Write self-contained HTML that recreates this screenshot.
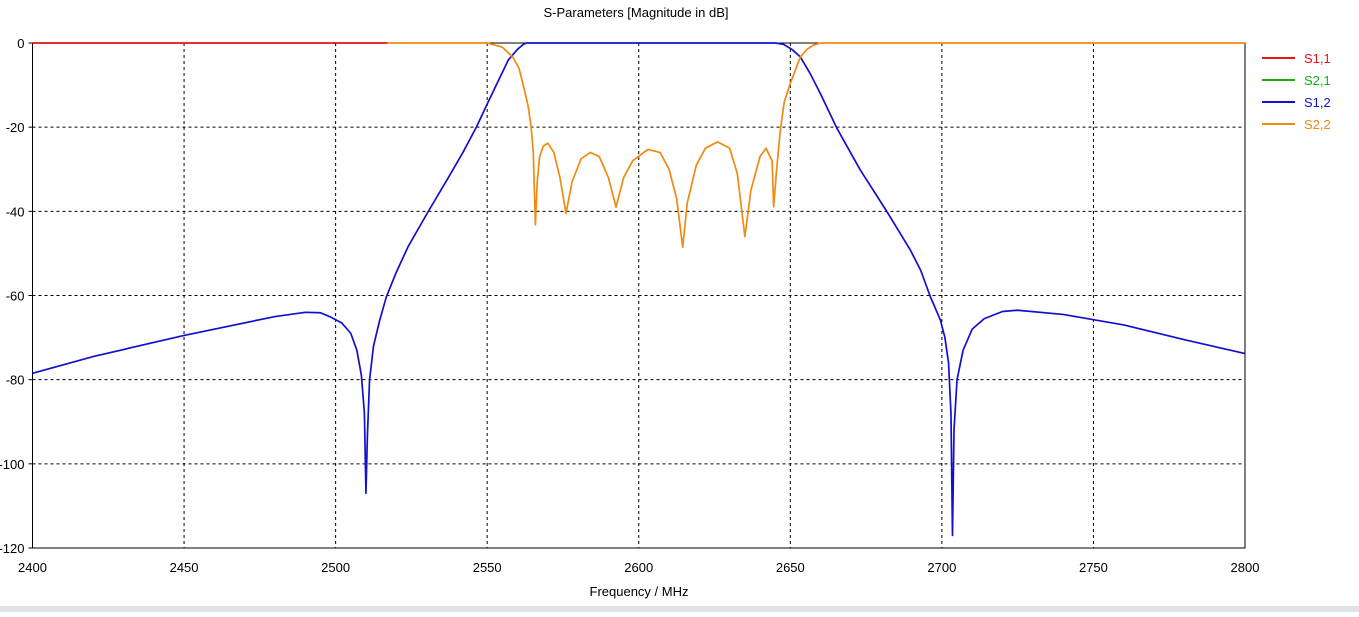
<!DOCTYPE html>
<html><head><meta charset="utf-8"><style>
body{margin:0;background:#fff;width:1359px;height:612px;overflow:hidden;font-family:"Liberation Sans",sans-serif}
svg text{font-family:"Liberation Sans",sans-serif;font-size:13px;fill:#000}
</style></head><body>
<svg id="c" width="1359" height="612">
<rect x="0" y="606" width="1359" height="6" fill="#dfe3ea"/>
<text x="636" y="17" text-anchor="middle">S-Parameters [Magnitude in dB]</text>
<text x="639" y="596" text-anchor="middle">Frequency / MHz</text>
<g id="grid"></g><g id="series"></g><g id="legend"></g>
</svg>
<script>
const xTicks=[2400,2450,2500,2550,2600,2650,2700,2750,2800];
const yTicks=[0,-20,-40,-60,-80,-100,-120];
const s11F=[2400,2517];
const s11V=[0,0];
const s12F=[2400,2420,2450,2480,2490,2495,2498,2502,2505,2507,2508.5,2509.5,2510,2510.5,2511.2,2512.5,2514.5,2516.7,2520,2523.9,2530.5,2537,2542,2546.5,2550.4,2554,2557,2560,2562,2563,2645,2647.7,2650.5,2653.3,2656.5,2659.9,2665.4,2673.1,2681.9,2689.6,2693,2696.2,2699.5,2701,2702.2,2703,2703.5,2704,2705,2707,2710,2714,2720,2725,2740,2760,2780,2800];
const s12V=[-78.5,-74.5,-69.5,-65,-64,-64.1,-65,-66.5,-69,-73,-79,-88,-107,-93,-80,-72,-66,-60.4,-54.5,-48.4,-40.1,-32.2,-26,-19.9,-13.9,-8.5,-4,-1.5,-0.3,0,0,-0.3,-1.5,-3.3,-7.2,-12,-20.3,-30.2,-40.1,-49.2,-54,-60.3,-65.8,-70,-76,-88,-117,-92,-80,-73,-68,-65.5,-63.8,-63.5,-64.5,-67,-70.5,-73.8];
const s22F=[2517,2550,2555,2558.4,2560.5,2562.3,2563.5,2564.5,2565.2,2565.9,2566.5,2567.3,2568.5,2570,2572,2574,2576,2578,2581,2584,2587,2590,2592.5,2595,2598,2603,2607,2610,2612.5,2614.5,2616,2619,2622,2626,2630,2632.5,2635,2637,2640,2642,2644,2644.5,2645.5,2646.7,2648,2650,2653.3,2655.5,2657.6,2660,2800];
const s22V=[0,0,-1,-3.3,-6,-11.2,-15,-20,-26,-43.2,-33,-27,-24.5,-23.8,-26,-32,-40.5,-33,-27.5,-26,-27,-32,-39,-32,-28,-25.3,-26,-30,-37,-48.5,-38,-29,-25,-23.5,-25,-31,-46,-35,-27,-25,-28,-38.9,-30,-20.7,-14,-9.6,-3.3,-1.5,-0.5,0,0];
const names=["S1,1","S2,1","S1,2","S2,2"];
const colors=["#e8101a","#12b012","#1010d0","#f08a10"];
const X0=32.5,X1=1245,Y0=43,Y1=548;
const xs=f=>X0+(f-2400)/(2800-2400)*(X1-X0);
const ys=v=>Y0+(-v)/120*(Y1-Y0);
const NS="http://www.w3.org/2000/svg";
function mk(t,p,a){const e=document.createElementNS(NS,t);for(const k in a)e.setAttribute(k,a[k]);p.appendChild(e);return e;}
const g=document.getElementById('grid');
xTicks.forEach(t=>{
 if(t>2400&&t<2800){const l=mk('line',g,{x1:xs(t),x2:xs(t),y1:Y0,y2:Y1,stroke:'#000','stroke-dasharray':'3,3','stroke-width':1});
 }
 const tx=mk('text',g,{x:xs(t),y:Y1+24,'text-anchor':'middle'});tx.textContent=t;
 
});
yTicks.forEach(t=>{
 if(t<0&&t>-120){const l=mk('line',g,{x1:X0,x2:X1,y1:ys(t),y2:ys(t),stroke:'#000','stroke-dasharray':'3,3','stroke-width':1});
 }
 const tx=mk('text',g,{x:X0-8,y:ys(t)+5,'text-anchor':'end'});tx.textContent=t;
 
 const tk=mk('line',g,{x1:X0-4,x2:X0,y1:ys(t),y2:ys(t),stroke:'#000'});
 
});
const fr=mk('rect',g,{x:X0,y:Y0,width:X1-X0,height:Y1-Y0,fill:'none',stroke:'#000','stroke-width':1});

const sg=document.getElementById('series');
function line(F,V,c,n){const p=mk('polyline',sg,{points:F.map((f,i)=>xs(f)+','+ys(V[i])).join(' '),fill:'none',stroke:c,'stroke-width':1.7,'stroke-linejoin':'round'});
 }
line(s12F,s12V,colors[2],'s12-line');
line(s22F,s22V,colors[3],'s22-line');
line(s11F,s11V,colors[0],'s11-line');
const lg=document.getElementById('legend');
names.forEach((n,i)=>{const y=58+i*22;
 const l=mk('line',lg,{x1:1262,x2:1295,y1:y,y2:y,stroke:colors[i],'stroke-width':2});
 
 const t=mk('text',lg,{x:1304,y:y+5,fill:colors[i]});t.textContent=n;t.style.fill=colors[i];
 
});
</script>
</body></html>
